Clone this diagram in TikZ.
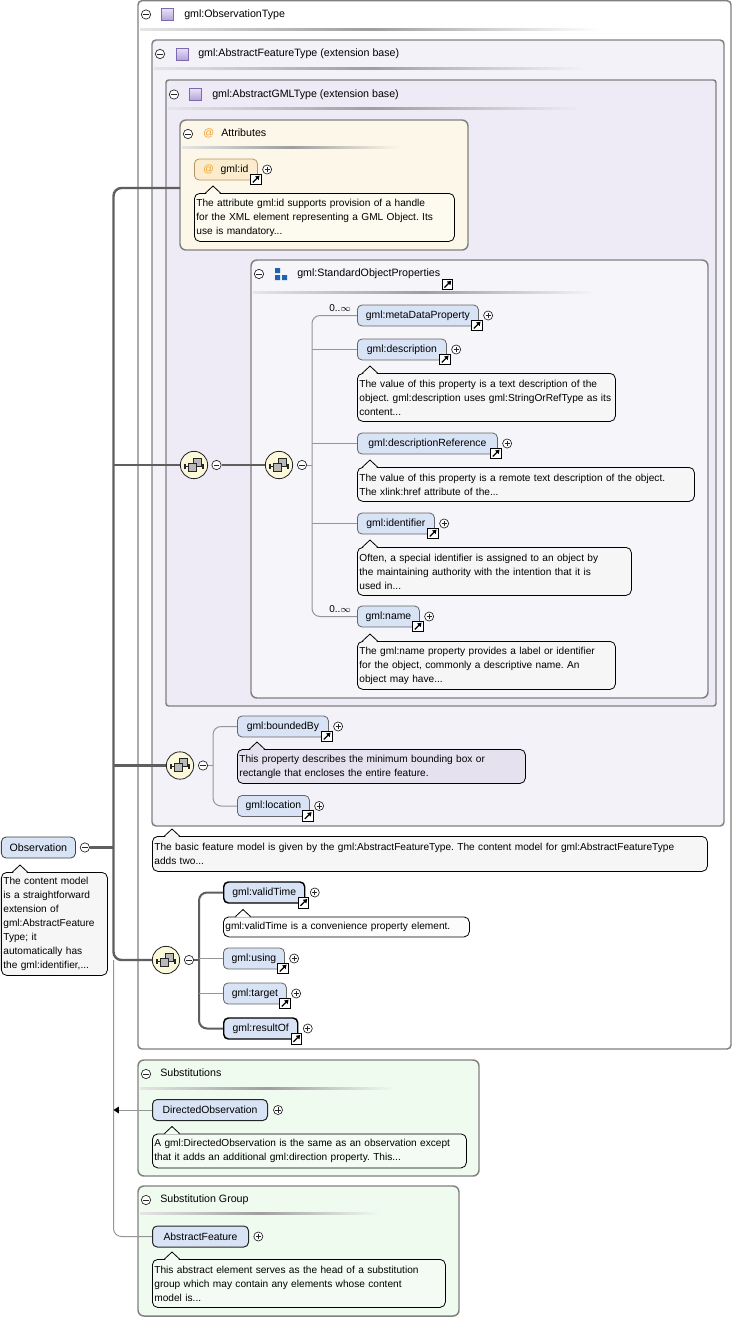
\documentclass[tikz,border=0pt]{standalone}
\usepackage{fontspec}
\setmainfont{Liberation Sans}
\usetikzlibrary{arrows.meta}
\pgfdeclarelayer{bg}
\pgfdeclarelayer{lines}
\pgfsetlayers{bg,lines,main}
\frenchspacing
\definecolor{elfill}{RGB}{216,227,245}
\definecolor{lav1}{RGB}{244,242,249}
\definecolor{lav2}{RGB}{238,235,246}
\definecolor{lav3}{RGB}{246,245,250}
\definecolor{cream}{RGB}{253,247,233}
\definecolor{attrfill}{RGB}{252,236,206}
\definecolor{attrbord}{RGB}{180,150,100}
\definecolor{greenbg}{RGB}{240,251,240}
\definecolor{tipgray}{RGB}{246,246,247}
\definecolor{tipgreen}{RGB}{244,250,244}
\definecolor{tiplav}{RGB}{229,225,239}
\definecolor{tipcream}{RGB}{253,250,240}
\definecolor{tipwhite}{RGB}{252,252,252}
\definecolor{seqfill}{RGB}{252,249,218}
\definecolor{boxgray}{RGB}{128,128,128}
\definecolor{linegray}{RGB}{95,95,95}
\definecolor{thingray}{RGB}{150,150,150}
\definecolor{atorange}{RGB}{240,160,40}
\definecolor{grpblue}{RGB}{30,100,180}
\definecolor{sqtop}{RGB}{232,226,246}
\definecolor{sqbot}{RGB}{178,162,216}
\definecolor{sqbord}{RGB}{125,105,175}
\newcommand\sepl[4]{\shade[left color=black!10, right color=#4, middle color=black!38] (#1,#3-1) rectangle (#2,#3+1);}
\newcommand\caret[3]{%
  \fill[#3] (#1-7,#2+0.9) -- (#1,#2-6.3) -- (#1+7,#2+0.9) -- cycle;
  \draw[black, line width=0.6pt, line join=round] (#1-7.5,#2) -- (#1,#2-7) -- (#1+7.5,#2);}
\newcommand\lnkpl[1]{%
  \node[linkic] (#1L) at ([shift={(-2,-1)}]#1.south east) {};
  \node[plusc] (#1P) at ([xshift=7pt]#1.east) {};}
\tikzset{
  typebox/.style={draw=boxgray, line width=1.1pt},
  roundbox/.style={draw=boxgray, line width=1.1pt, rounded corners=4.5pt},
  elbase/.style={rounded corners=3.5pt, fill=elfill, minimum height=15.75pt, inner sep=0pt, anchor=west, font=\fontsize{7.8}{10}\selectfont},
  elopt/.style={elbase, draw=black!60, line width=0.6pt},
  elreq/.style={elbase, draw=black, line width=1.1pt},
  attrst/.style={elbase, fill=attrfill, draw=attrbord, line width=0.6pt},
  ttip/.style={draw=black, line width=0.6pt, rounded corners=4pt, anchor=north west, align=left, inner xsep=1.5pt, inner ysep=2pt, font=\fontsize{7.6}{10.5}\selectfont},
  thickln/.style={draw=linegray, line width=1.8pt},
  thinln/.style={draw=thingray, line width=0.75pt},
  minusc/.style={circle, draw=black!85, fill=white, line width=0.5pt, minimum size=7pt, inner sep=0pt,
    path picture={\draw[line width=0.55pt] ([xshift=-2pt]path picture bounding box.center) -- ([xshift=2pt]path picture bounding box.center);}},
  plusc/.style={circle, draw=black!85, fill=white, line width=0.5pt, minimum size=6.8pt, inner sep=0pt,
    path picture={\draw[line width=0.55pt] ([xshift=-1.9pt]path picture bounding box.center) -- ([xshift=1.9pt]path picture bounding box.center) ([yshift=-1.9pt]path picture bounding box.center) -- ([yshift=1.9pt]path picture bounding box.center);}},
  linkic/.style={rectangle, draw=black, line width=0.8pt, fill=white, minimum size=8pt, inner sep=0pt,
    path picture={\draw[line width=1pt,-{Triangle[length=2.8pt,width=3.6pt]}] ([shift={(-2.3pt,-2.3pt)}]path picture bounding box.center) -- ([shift={(2.8pt,2.8pt)}]path picture bounding box.center);}},
  seqc/.style={circle, draw=black!85, line width=0.6pt, fill=seqfill, minimum size=20.5pt, inner sep=0pt},
  hdr/.style={anchor=west, inner sep=0pt, font=\fontsize{8}{10}\selectfont, text height=6pt, text depth=1.7pt},
  occ/.style={anchor=west, inner sep=0pt, font=\fontsize{7.5}{9}\selectfont},
  seqglyph/.pic={
    \draw[black!85, line width=0.5pt] (-9,1) -- (9,1);
    \draw[black!85, line width=0.8pt] (-9,-1.5) -- (-9,3.5) (9,-1.5) -- (9,3.5);
    \filldraw[fill=gray!55, draw=black!85, line width=0.5pt] (-1,-7) rectangle (7,1);
    \filldraw[fill=gray!55, draw=black!85, line width=0.5pt] (-6,-2) rectangle (2,6);
  },
  typesq/.pic={\draw[draw=sqbord, line width=0.5pt, top color=sqtop, bottom color=sqbot] (-6,-6) rectangle (6,6);},
  grpicon/.pic={\fill[grpblue] (-6,-6) rectangle (-1,-1) (-6,1) rectangle (-1,6) (1,1) rectangle (6,6);},
}
\begin{document}
\begin{tikzpicture}[x=0.75pt,y=-0.75pt]
\useasboundingbox (0,0) rectangle (734,1318);

% ---------- boxes ----------
\begin{pgfonlayer}{bg}
\fill[white] (0,0) rectangle (734,1318);
\draw[typebox, fill=white, rounded corners=3pt] (138,0.7) rectangle (731,1049);
\draw[typebox, fill=lav1, rounded corners=3pt] (152,40) rectangle (724,826);
\draw[typebox, fill=lav2, rounded corners=2pt] (166,80) rectangle (716,706);
\draw[roundbox, fill=cream] (180,120) rectangle (468,250);
\draw[roundbox, fill=lav3] (251,260) rectangle (708,698);
\draw[roundbox, fill=greenbg] (138,1060) rectangle (479,1176);
\draw[roundbox, fill=greenbg] (138,1186) rectangle (459,1316);
\sepl{140}{600}{29}{white}
\sepl{154}{585}{68}{lav1}
\sepl{168}{580}{108}{lav2}
\sepl{182}{400}{147}{cream}
\sepl{253}{595}{292}{lav3}
\sepl{140}{395}{1088}{greenbg}
\sepl{140}{380}{1213}{greenbg}
\end{pgfonlayer}

% ---------- headers ----------
\node[minusc] (hm1) at (146,14.5) {};
\pic at (167,14.5) {typesq};
\node[hdr] (h1) at (184,14.5) {gml:ObservationType};
\node[minusc] (hm2) at (160,54) {};
\pic at (182,54) {typesq};
\node[hdr] (h2) at (198,54) {gml:AbstractFeatureType (extension base)};
\node[minusc] (hm3) at (174,94.5) {};
\pic at (195.5,94.5) {typesq};
\node[hdr] (h3) at (212,94.5) {gml:AbstractGMLType (extension base)};
\node[minusc] (hm4) at (188,134) {};
\node[hdr, text=atorange] (h4a) at (203,134) {@};
\node[hdr] (h4) at (221,134) {Attributes};
\node[minusc] (hm5) at (259,274) {};
\pic at (281,274) {grpicon};
\node[hdr] (h5) at (297,274) {gml:StandardObjectProperties};
\node[linkic] (h5L) at (447.5,284.5) {};
\node[minusc] (hm6) at (146,1074) {};
\node[hdr] (h6) at (160,1074) {Substitutions};
\node[minusc] (hm7) at (146,1200) {};
\node[hdr] (h7) at (160,1200) {Substitution Group};

% ---------- element nodes ----------
\node[attrst, minimum width=47.25pt] (gid) at (194,169.5) {\textcolor{atorange}{@}\hspace{5pt}gml:id};
\node[elopt, minimum width=90.75pt] (md) at (357,315.5) {gml:metaDataProperty};
\node[elopt, minimum width=66.75pt] (desc) at (357,349.5) {gml:description};
\node[elopt, minimum width=105pt] (dref) at (357,443.5) {gml:descriptionReference};
\node[elopt, minimum width=57.75pt] (ident) at (357,523.5) {gml:identifier};
\node[elopt, minimum width=46.5pt] (nm) at (357,616.5) {gml:name};
\node[elopt, minimum width=68.25pt] (bb) at (237,726.5) {gml:boundedBy};
\node[elopt, minimum width=54pt] (loc) at (237,806) {gml:location};
\node[elreq, minimum width=60.75pt] (vt) at (223,892.5) {gml:validTime};
\node[elopt, minimum width=45.75pt] (us) at (223,958.5) {gml:using};
\node[elopt, minimum width=47.25pt] (tg) at (223,993.5) {gml:target};
\node[elreq, minimum width=55.5pt] (ro) at (223,1028.5) {gml:resultOf};
\node[elopt, draw=black!75, minimum width=55.5pt, font=\fontsize{8}{10}\selectfont] (obs) at (1,847.5) {Observation};
\node[elopt, draw=black!85, line width=0.75pt, minimum width=86.25pt] (dobs) at (152,1110) {DirectedObservation};
\node[elopt, draw=black!85, line width=0.75pt, minimum width=72pt] (absf) at (152,1236.5) {AbstractFeature};

\lnkpl{gid}\lnkpl{md}\lnkpl{desc}\lnkpl{dref}\lnkpl{ident}\lnkpl{nm}
\lnkpl{bb}\lnkpl{loc}\lnkpl{vt}\lnkpl{us}\lnkpl{tg}\lnkpl{ro}
\node[minusc] (obsM) at ([xshift=6.8pt]obs.east) {};
\node[plusc] (dobsP) at ([xshift=7.5pt]dobs.east) {};
\node[plusc] (absfP) at ([xshift=7pt]absf.east) {};

\node[occ] (o1) at (329,308) {0..$\infty$};
\node[occ] (o2) at (329,609.5) {0..$\infty$};

% ---------- sequence compositors ----------
\node[seqc] (s1) at (194,465) {}; \pic at (s1) {seqglyph};
\node[minusc] (s1m) at (216.5,465) {};
\node[seqc] (s2) at (279,465) {}; \pic at (s2) {seqglyph};
\node[minusc] (s2m) at (302,465) {};
\node[seqc] (s3) at (180,765.5) {}; \pic at (s3) {seqglyph};
\node[minusc] (s3m) at (203,765.5) {};
\node[seqc] (s4) at (166,960) {}; \pic at (s4) {seqglyph};
\node[minusc] (s4m) at (189,960) {};

\coordinate (attrL) at (180,188);

% ---------- connectors ----------
\begin{pgfonlayer}{lines}
\draw[thickln, rounded corners=6pt] (attrL) -- (113.5,188) -- (113.5,960) -- (s4.west);
\draw[thickln] (113.5,465) -- (s1.west);
\draw[thickln] (113.5,765.5) -- (s3.west);
\draw[thickln] (obsM.east) -- (113.5,847.5);
\draw[thickln] (s1m.east) -- (s2.west);
\draw[thinln] (s2m.east) -- (312,465);
\draw[thinln, rounded corners=6pt] (md.west) -- (312,315.5) -- (312,616.5) -- (nm.west);
\draw[thinln] (312,349.5) -- (desc.west);
\draw[thinln] (312,443.5) -- (dref.west);
\draw[thinln] (312,523.5) -- (ident.west);
\draw[thinln] (s3m.east) -- (213,765.5);
\draw[thinln, rounded corners=6pt] (bb.west) -- (213,726.5) -- (213,806) -- (loc.west);
\draw[thickln, line width=1.5pt] (s4m.east) -- (199,960);
\draw[thickln, line width=1.5pt, rounded corners=6pt] (vt.west) -- (199,892.5) -- (199,1028.5) -- (ro.west);
\draw[thinln] (199,958.5) -- (us.west);
\draw[thinln] (199,993.5) -- (tg.west);
\draw[thinln, rounded corners=6pt] (113.5,960) -- (113.5,1236.5) -- (absf.west);
\draw[thinln, -{Triangle[length=4pt,width=5pt,color=black]}] (dobs.west) -- (113.5,1110);
\end{pgfonlayer}

% ---------- tooltips ----------
\node[ttip, fill=tipcream, text width=192pt, minimum height=36pt] (gidT) at (194,193) {The attribute gml:id supports provision of a handle\\for the XML element representing a GML Object. Its\\use is mandatory...};
\caret{213}{193}{tipcream}
\node[ttip, fill=tipgray, text width=190.5pt, minimum height=36pt] (descT) at (357,373) {The value of this property is a text description of the\\object. gml:description uses gml:StringOrRefType as its\\content...};
\caret{370}{373}{tipgray}
\node[ttip, fill=tipgray, text width=249.75pt, minimum height=25.5pt] (drefT) at (357,467) {The value of this property is a remote text description of the object.\\The xlink:href attribute of the...};
\caret{370}{467}{tipgray}
\node[ttip, fill=tipgray, text width=202.5pt, minimum height=36pt] (identT) at (357,547) {Often, a special identifier is assigned to an object by\\the maintaining authority with the intention that it is\\used in...};
\caret{370}{547}{tipgray}
\node[ttip, fill=tipgray, text width=190.5pt, minimum height=36pt] (nmT) at (357,641) {The gml:name property provides a label or identifier\\for the object, commonly a descriptive name. An\\object may have...};
\caret{370}{641}{tipgray}
\node[ttip, fill=tiplav, text width=213pt, minimum height=25.5pt] (bbT) at (237,749) {This property describes the minimum bounding box or\\rectangle that encloses the entire feature.};
\caret{257}{749}{tiplav}
\node[ttip, fill=tipgray, text width=413.25pt, minimum height=26.25pt] (featT) at (152,836) {The basic feature model is given by the gml:AbstractFeatureType. The content model for gml:AbstractFeatureType\\adds two...};
\caret{172}{836}{tipgray}
\node[ttip, fill=tipgray, text width=76.5pt, minimum height=77.25pt] (obsT) at (1,872) {The content model\\is a straightforward\\extension of\\gml:AbstractFeature\\Type; it\\automatically has\\the gml:identifier,...};
\caret{20}{872}{tipgray}
\node[ttip, fill=tipwhite, text width=181.5pt, minimum height=15pt] (vtT) at (223,916.5) {gml:validTime is a convenience property element.};
\caret{243}{916.5}{tipwhite}
\node[ttip, fill=tipgreen, text width=232.5pt, minimum height=25.5pt] (dobsT) at (152,1133.5) {A gml:DirectedObservation is the same as an observation except\\that it adds an additional gml:direction property. This...};
\caret{172}{1133.5}{tipgreen}
\node[ttip, fill=tipgreen, text width=216.75pt, minimum height=36pt] (absfT) at (152,1259) {This abstract element serves as the head of a substitution\\group which may contain any elements whose content\\model is...};
\caret{172}{1259}{tipgreen}
\end{tikzpicture}
\end{document}
